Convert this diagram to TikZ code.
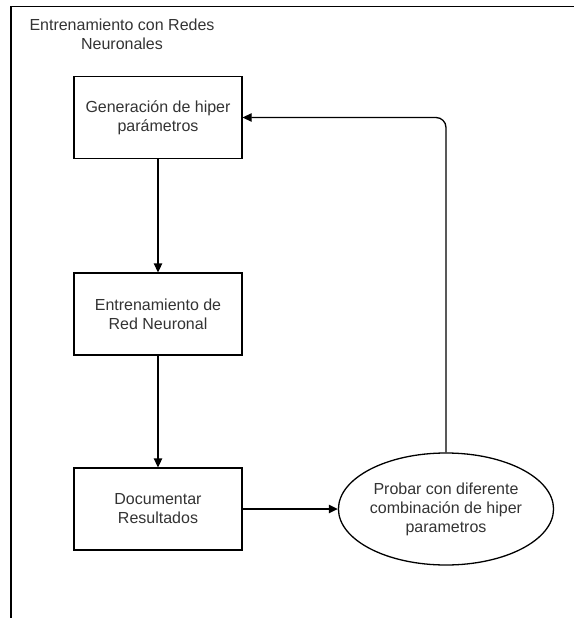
\documentclass[tikz,border=0pt]{standalone}
\usepackage{fontspec}
\setmainfont{Liberation Sans}
\usetikzlibrary{arrows.meta,shapes.geometric}
\definecolor{txt}{HTML}{333333}
\tikzset{
  textfont/.style={text=txt, font=\fontsize{16}{19}\selectfont},
  stepbox/.style={draw=black, line width=1.3pt, minimum width=168pt, minimum height=82pt,
    align=center, textfont, inner sep=0pt},
  roundbox/.style={draw=black, line width=1.3pt, ellipse, minimum width=214pt, minimum height=112pt,
    align=center, textfont, inner sep=0pt},
  flow/.style={line width=1.3pt, -{Stealth[length=9pt,width=8.5pt,inset=0pt]}},
  label/.style={align=center, textfont, inner sep=0pt}
}
\begin{document}
\begin{tikzpicture}[x=1pt,y=-1pt]
\useasboundingbox (0,0) rectangle (574,618);
% container frame (runs off the page to the right and bottom)
\draw[line width=1.3pt] (11,618) -- (11,6.5) -- (574,6.5);
\node[label] (title) at (122,34.5) {Entrenamiento con Redes\\Neuronales};

\node[stepbox] (gen) at (158,117.5) {Generación de hiper\\parámetros};
\node[stepbox] (train) at (158,314) {Entrenamiento de\\Red Neuronal};
\node[stepbox] (doc) at (158,509) {Documentar\\Resultados};
\node[roundbox] (probe) at (446,509) {Probar con diferente\\combinación de hiper\\parametros};

\draw[flow] (gen) -- (train);
\draw[flow] (train) -- (doc);
\draw[flow] (doc) -- (probe);
\draw[flow, rounded corners=10pt] (probe.north) -- (probe.north |- gen.east) -- (gen.east);
\end{tikzpicture}
\end{document}
